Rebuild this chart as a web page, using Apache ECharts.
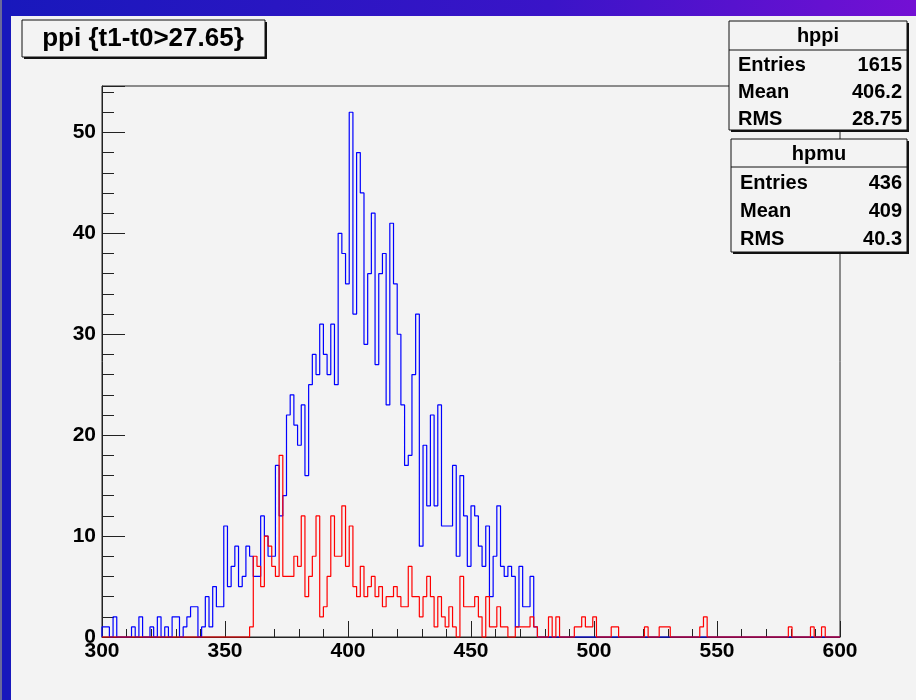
<!DOCTYPE html>
<html>
<head>
<meta charset="utf-8">
<script src="https://cdn.jsdelivr.net/npm/echarts@6.0.0/dist/echarts.min.js"></script>
<style>
  html, body { margin: 0; padding: 0; background: #f3f3f3; }
  #main { width: 916px; height: 700px; }
</style>
</head>
<body>
<div id="main"></div>
<script>
// histogram binning (200 bins from 300 to 600)
var binLow = 300;
var binWidth = 1.5;

// hppi (blue) bin contents
var hppiCounts = [
  1,1,0,2,0,0,0,0,1,0,
  2,0,0,1,0,2,0,1,0,2,
  2,0,1,2,3,3,0,1,4,1,
  5,3,3,11,5,7,9,5,6,9,
  8,6,6,12,10,8,8,17,12,14,
  22,24,21,19,23,16,25,28,26,31,
  28,26,31,25,40,38,35,52,32,48,
  44,29,36,42,27,36,38,23,41,35,
  30,23,17,18,26,32,9,19,13,22,
  13,23,11,11,11,17,8,16,12,7,
  13,12,9,7,11,4,8,13,7,6,
  7,6,1,7,3,3,6,1,0,0,
  0,0,0,0,0,0,0,0,0,0,
  0,0,0,0,0,0,0,0,0,0,
  0,0,0,0,0,0,0,0,0,0,
  0,0,0,0,0,0,0,0,0,0,
  0,0,0,0,0,0,0,0,0,0,
  0,0,0,0,0,0,0,0,0,0,
  0,0,0,0,0,0,0,0,0,0,
  0,0,0,0,0,0,0,0,0,0
];

// hpmu (red) bin contents
var hpmuCounts = [
  0,0,0,0,0,0,0,0,0,0,
  0,0,0,0,0,0,0,0,0,0,
  0,0,0,0,0,0,0,0,0,0,
  0,0,0,0,0,0,0,0,0,0,
  1,8,7,5,10,9,7,6,18,6,
  6,6,8,7,12,4,6,8,12,2,
  3,6,12,8,8,13,7,11,5,4,
  7,4,5,6,4,5,3,4,4,5,
  4,3,3,7,4,4,2,4,6,4,
  1,4,2,1,3,1,0,6,3,3,
  3,4,2,0,4,1,1,3,1,1,
  0,0,1,1,1,1,2,1,0,0,
  0,2,0,2,0,0,0,0,1,1,
  2,1,1,2,0,0,0,0,1,1,
  0,0,0,0,0,0,0,1,0,0,
  0,1,1,1,0,0,0,0,0,0,
  0,0,1,2,0,0,0,0,0,0,
  0,0,0,0,0,0,0,0,0,0,
  0,0,0,0,0,0,1,0,0,0,
  0,0,1,0,0,1,0,0,0,0
];

var titleText = 'ppi {t1-t0>27.65}';
var statNames = ['hppi', 'hpmu'];
var statRows = [
  [['Entries', '1615'], ['Mean', '406.2'], ['RMS', '28.75']],
  [['Entries', '436'], ['Mean', '409'], ['RMS', '40.3']]
];

var FONT = '"Liberation Sans", Arial, Helvetica, sans-serif';
var BG = '#f3f3f3';

function histPoints(counts) {  // outline as step points at bin edges
  var pts = [[binLow, 0]];
  for (var i = 0; i < counts.length; i++) {
    pts.push([binLow + i * binWidth, counts[i]]);
  }
  var hi = binLow + counts.length * binWidth;
  pts.push([hi, counts[counts.length - 1]]);
  pts.push([hi, 0]);
  return pts;
}

function statBox(x, y, w, h, headH, name, rows, rowYs) {
  var els = [];
  els.push({type: 'rect', shape: {x: x + 2, y: y + 2, width: w, height: h}, style: {fill: '#111'}, z: 10});
  els.push({type: 'rect', shape: {x: x, y: y, width: w, height: h}, style: {fill: BG, stroke: '#111', lineWidth: 1}, z: 11});
  els.push({type: 'line', shape: {x1: x, y1: y + headH, x2: x + w, y2: y + headH}, style: {stroke: '#111', lineWidth: 1}, z: 12});
  els.push({type: 'text', z: 12, style: {text: name, x: x + w / 2, y: y + headH / 2 + 1, textAlign: 'center', textVerticalAlign: 'middle',
    font: 'bold 20px ' + FONT, fill: '#000'}});
  for (var i = 0; i < rows.length; i++) {
    els.push({type: 'text', z: 12, style: {text: rows[i][0], x: x + 9, y: rowYs[i], textAlign: 'left', textVerticalAlign: 'middle',
      font: 'bold 20px ' + FONT, fill: '#000'}});
    els.push({type: 'text', z: 12, style: {text: rows[i][1], x: x + w - 5, y: rowYs[i], textAlign: 'right', textVerticalAlign: 'middle',
      font: 'bold 20px ' + FONT, fill: '#000'}});
  }
  return els;
}

var chart = echarts.init(document.getElementById('main'), null, {renderer: 'canvas'});

var graphics = [
  {type: 'rect', shape: {x: 0, y: 0, width: 916, height: 16}, z: 1,
   style: {fill: new echarts.graphic.LinearGradient(0, 0, 1, 0, [
     {offset: 0, color: '#1818bc'}, {offset: 0.6, color: '#3a14c8'}, {offset: 1, color: '#7410d4'}])}},
  {type: 'rect', shape: {x: 0, y: 0, width: 11, height: 700}, style: {fill: '#1818bc'}, z: 1},
  {type: 'rect', shape: {x: 0, y: 0, width: 2, height: 700}, style: {fill: '#6a6a9a'}, z: 1},
  // title box
  {type: 'rect', shape: {x: 24, y: 22, width: 243, height: 37}, style: {fill: '#111'}, z: 10},
  {type: 'rect', shape: {x: 22, y: 20, width: 243, height: 37}, style: {fill: BG, stroke: '#111', lineWidth: 1}, z: 11},
  {type: 'text', z: 12, style: {text: titleText, x: 143, y: 39, textAlign: 'center', textVerticalAlign: 'middle',
    font: 'bold 26px ' + FONT, fill: '#000'}}
];
graphics = graphics.concat(statBox(729, 21, 178, 109, 29, statNames[0], statRows[0], [65, 92, 119]));
graphics = graphics.concat(statBox(731, 139, 176, 113, 28, statNames[1], statRows[1], [183, 211, 239]));

var option = {
  backgroundColor: BG,
  animation: false,
  grid: {left: 102, right: 76, top: 86, bottom: 63, show: true, borderColor: '#222', borderWidth: 1},
  xAxis: {
    type: 'value', min: 300, max: 600, interval: 50,
    axisLine: {show: true, lineStyle: {color: '#222', width: 1}},
    axisTick: {show: true, inside: true, length: 16, lineStyle: {color: '#222'}},
    minorTick: {show: true, splitNumber: 5, length: 8, lineStyle: {color: '#222'}},
    splitLine: {show: false},
    axisLabel: {color: '#000', fontSize: 21, fontWeight: 'bold', fontFamily: FONT, margin: 4}
  },
  yAxis: {
    type: 'value', min: 0, max: 54.6, interval: 10,
    axisLine: {show: true, lineStyle: {color: '#222', width: 1}},
    axisTick: {show: true, inside: true, length: 23, lineStyle: {color: '#222'}},
    minorTick: {show: true, splitNumber: 5, length: 12, lineStyle: {color: '#222'}},
    splitLine: {show: false},
    axisLabel: {color: '#000', fontSize: 21, fontWeight: 'bold', fontFamily: FONT, margin: 6, showMaxLabel: false}
  },
  series: [
    {name: 'hppi', type: 'line', step: 'end', data: histPoints(hppiCounts), showSymbol: false, clip: false,
     lineStyle: {color: '#0000ff', width: 1.2}, z: 3},
    {name: 'hpmu', type: 'line', step: 'end', data: histPoints(hpmuCounts), showSymbol: false, clip: false,
     lineStyle: {color: '#ff0000', width: 1.2}, z: 4}
  ],
  graphic: graphics
};

chart.setOption(option);
</script>
</body>
</html>
